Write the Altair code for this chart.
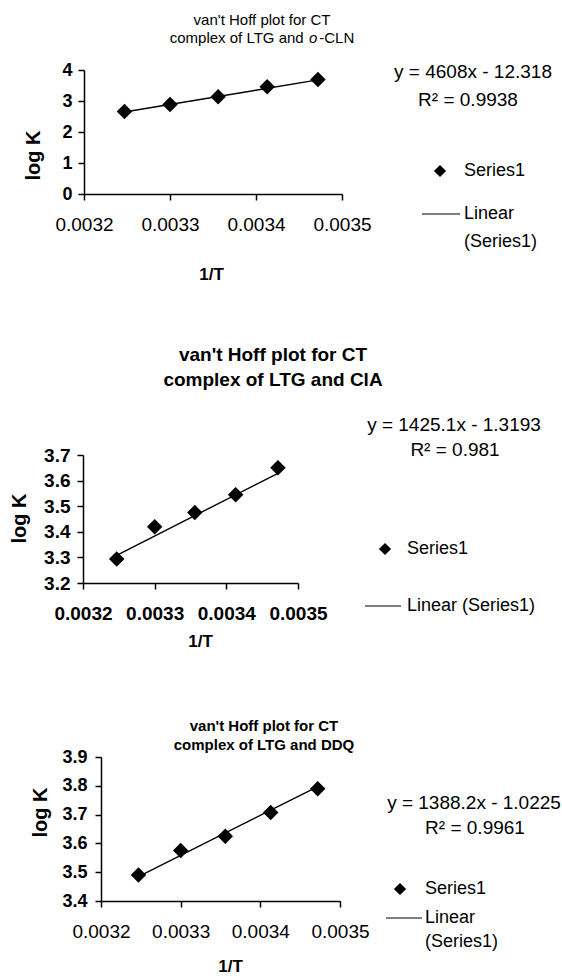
import altair as alt
import pandas as pd

FONT = "Liberation Sans"

# reciprocal temperatures (1/K) for 308, 303, 298, 293, 288 K
inv_T = [0.003247, 0.003300, 0.003356, 0.003413, 0.003472]
x_ticks = [0.0032, 0.0033, 0.0034, 0.0035]

# log K of the CT complexes of LTG
logk_ocln = [2.66, 2.89, 3.14, 3.46, 3.69]
logk_cia = [3.294, 3.42, 3.475, 3.545, 3.65]
logk_ddq = [3.49, 3.575, 3.625, 3.707, 3.79]

# least-squares lines as reported
slopes = [4608.0, 1425.1, 1388.2]
intercepts = [-12.318, -1.3193, -1.0225]
r_squared = ["0.9938", "0.981", "0.9961"]
equations = ["y = 4608x - 12.318", "y = 1425.1x - 1.3193", "y = 1388.2x - 1.0225"]

y_ticks_ocln = [0, 1, 2, 3, 4]
y_ticks_cia = [3.2, 3.3, 3.4, 3.5, 3.6, 3.7]
y_ticks_ddq = [3.4, 3.5, 3.6, 3.7, 3.8, 3.9]


def text(label, x, y, size, weight="normal", align="center", style="normal"):
    return alt.Chart(pd.DataFrame({"label": [label]})).mark_text(
        font=FONT, fontSize=size, fontWeight=weight, fontStyle=style,
        align=align, baseline="middle", color="black",
    ).encode(text="label:N", x=alt.value(x), y=alt.value(y))


def panel(i, logk, y_ticks, y_fmt, box, span, title_layers, leg, eq_pos,
          ylab_size, ylab_pad, xlab_size, xlab_weight, logk_pos, invt_pos,
          linear_two_lines):
    L, T, R, B = box
    W, H = R - L, B - T
    rx = lambda px: px - L
    ry = lambda py: py - T

    pts = pd.DataFrame({"inv_T": inv_T, "logK": logk})
    ends = [min(inv_T), max(inv_T)]
    fit = pd.DataFrame({"inv_T": ends,
                        "logK": [slopes[i] * v + intercepts[i] for v in ends]})

    x_enc = alt.X(
        "inv_T:Q",
        scale=alt.Scale(domain=[x_ticks[0], x_ticks[-1]], nice=False, zero=False),
        axis=alt.Axis(
            values=x_ticks, format=".4f", title="1/T",
            labelFontSize=xlab_size, labelFontWeight=xlab_weight,
            labelBaseline="middle", labelPadding=24, labelFlush=False,
            titleFontSize=17, titleFontWeight="bold",
            titleX=invt_pos[0] - L, titleY=invt_pos[1] - B,
            titleAlign="center", titleBaseline="middle",
        ),
    )
    y_enc = alt.Y(
        "logK:Q",
        scale=alt.Scale(domain=[y_ticks[0], y_ticks[-1]], nice=False, zero=False),
        axis=alt.Axis(
            values=y_ticks, format=y_fmt, title="log K",
            labelFontSize=ylab_size, labelFontWeight="bold", labelPadding=ylab_pad,
            labelFlush=False,
            titleFontSize=20, titleFontWeight="bold", titleAngle=270,
            titleX=logk_pos[0] - L, titleY=logk_pos[1] - T,
            titleAlign="center", titleBaseline="middle",
        ),
    )

    # invisible rule fixing the panel's extent inside the stacked layout
    frame = alt.Chart(pd.DataFrame({"k": [0]})).mark_rule(opacity=0).encode(
        x=alt.value(-(L - 1)), y=alt.value(span[0] - T), y2=alt.value(span[1] - T)
    )
    trend = alt.Chart(fit).mark_line(color="black", strokeWidth=1.4).encode(
        x=x_enc, y=y_enc
    )
    points = alt.Chart(pts).mark_point(
        shape="diamond", filled=True, size=240, color="black", opacity=1
    ).encode(x=x_enc, y=y_enc)

    layers = [frame, trend, points]
    for (s, x, y, size, weight, align, style) in title_layers:
        layers.append(text(s, rx(x), ry(y), size, weight, align, style))

    # fitted equation and R²
    layers.append(text(equations[i], rx(eq_pos[0]), ry(eq_pos[1]), 19))
    layers.append(text("R² = " + r_squared[i], rx(eq_pos[2]), ry(eq_pos[3]), 19))

    # legend entries
    dx, dy, tx, lx1, lx2, ly, ly2 = leg
    layers.append(
        alt.Chart(pd.DataFrame({"k": [0]})).mark_point(
            shape="diamond", filled=True, size=150, color="black", opacity=1
        ).encode(x=alt.value(rx(dx)), y=alt.value(ry(dy)))
    )
    layers.append(text("Series1", rx(tx), ry(dy), 18, align="left"))
    layers.append(
        alt.Chart(pd.DataFrame({"k": [0]})).mark_rule(color="black", strokeWidth=1.2).encode(
            x=alt.value(rx(lx1)), x2=alt.value(rx(lx2)), y=alt.value(ry(ly))
        )
    )
    if linear_two_lines:
        layers.append(text("Linear", rx(tx), ry(ly), 18, align="left"))
        layers.append(text("(Series1)", rx(tx), ry(ly2), 18, align="left"))
    else:
        layers.append(text("Linear (Series1)", rx(tx), ry(ly), 18, align="left"))

    plot = alt.layer(*layers).properties(width=W, height=H)

    # a 1-px blank column lets each plot keep its own left edge in the stack
    spacer = alt.Chart(pd.DataFrame({"k": [0]})).mark_rule(opacity=0).encode(
        x=alt.value(0), y=alt.value(0), y2=alt.value(1)
    ).properties(width=1, height=1)
    return alt.hconcat(spacer, plot, spacing=0)


# title of the first panel: the "o" of o-CLN is italic
t1 = 15
cx1 = 262
w_a, w_sp, w_o, w_cln = 9.004 * t1, 0.278 * t1, 0.556 * t1, 2.333 * t1
start1 = cx1 - (w_a + w_sp + w_o + w_cln + 2) / 2
title1 = [
    ("van't Hoff plot for CT", cx1, 20, t1, "normal", "center", "normal"),
    ("complex of LTG and", start1, 38, t1, "normal", "left", "normal"),
    ("o", start1 + w_a + w_sp, 38, t1, "normal", "left", "italic"),
    ("-CLN", start1 + w_a + w_sp + w_o + 2, 38, t1, "normal", "left", "normal"),
]
title2 = [
    ("van't Hoff plot for CT", 273, 355, 19, "bold", "center", "normal"),
    ("complex of LTG and ClA", 273, 380, 19, "bold", "center", "normal"),
]
title3 = [
    ("van't Hoff plot for CT", 264, 726, 15, "bold", "center", "normal"),
    ("complex of LTG and DDQ", 264, 745, 15, "bold", "center", "normal"),
]

p1 = panel(
    0, logk_ocln, y_ticks_ocln, "d",
    box=(84, 70, 342, 194), span=(0, 300), title_layers=title1,
    leg=(440, 171, 464, 422, 460, 214, 242), eq_pos=(473, 72, 468, 100),
    ylab_size=18, ylab_pad=6, xlab_size=19, xlab_weight="normal",
    logk_pos=(33, 155), invt_pos=(211, 274), linear_two_lines=True,
)
p2 = panel(
    1, logk_cia, y_ticks_cia, ".1f",
    box=(83, 455, 298, 583), span=(300, 655), title_layers=title2,
    leg=(385, 549, 407, 365, 401, 606, 606), eq_pos=(454, 425, 455, 450),
    ylab_size=19, ylab_pad=7, xlab_size=19, xlab_weight="bold",
    logk_pos=(19, 518), invt_pos=(200, 641), linear_two_lines=False,
)
p3 = panel(
    2, logk_ddq, y_ticks_ddq, ".1f",
    box=(101, 757, 340, 901), span=(655, 978), title_layers=title3,
    leg=(400, 889, 425, 386, 422, 918, 942), eq_pos=(474, 803, 475, 828),
    ylab_size=18, ylab_pad=8, xlab_size=19, xlab_weight="normal",
    logk_pos=(40, 812), invt_pos=(230, 966), linear_two_lines=True,
)

chart = (
    alt.vconcat(p1, p2, p3, spacing=0)
    .properties(padding=0, background="white")
    .configure_view(strokeWidth=0)
    .configure_axis(
        labelFont=FONT, titleFont=FONT, labelColor="black", titleColor="black",
        domainColor="black", domainWidth=1.5, tickColor="black", tickWidth=1.5,
        tickSize=6, grid=False,
    )
)

chart.save("out.html", embed_options={"renderer": "svg", "actions": False})
